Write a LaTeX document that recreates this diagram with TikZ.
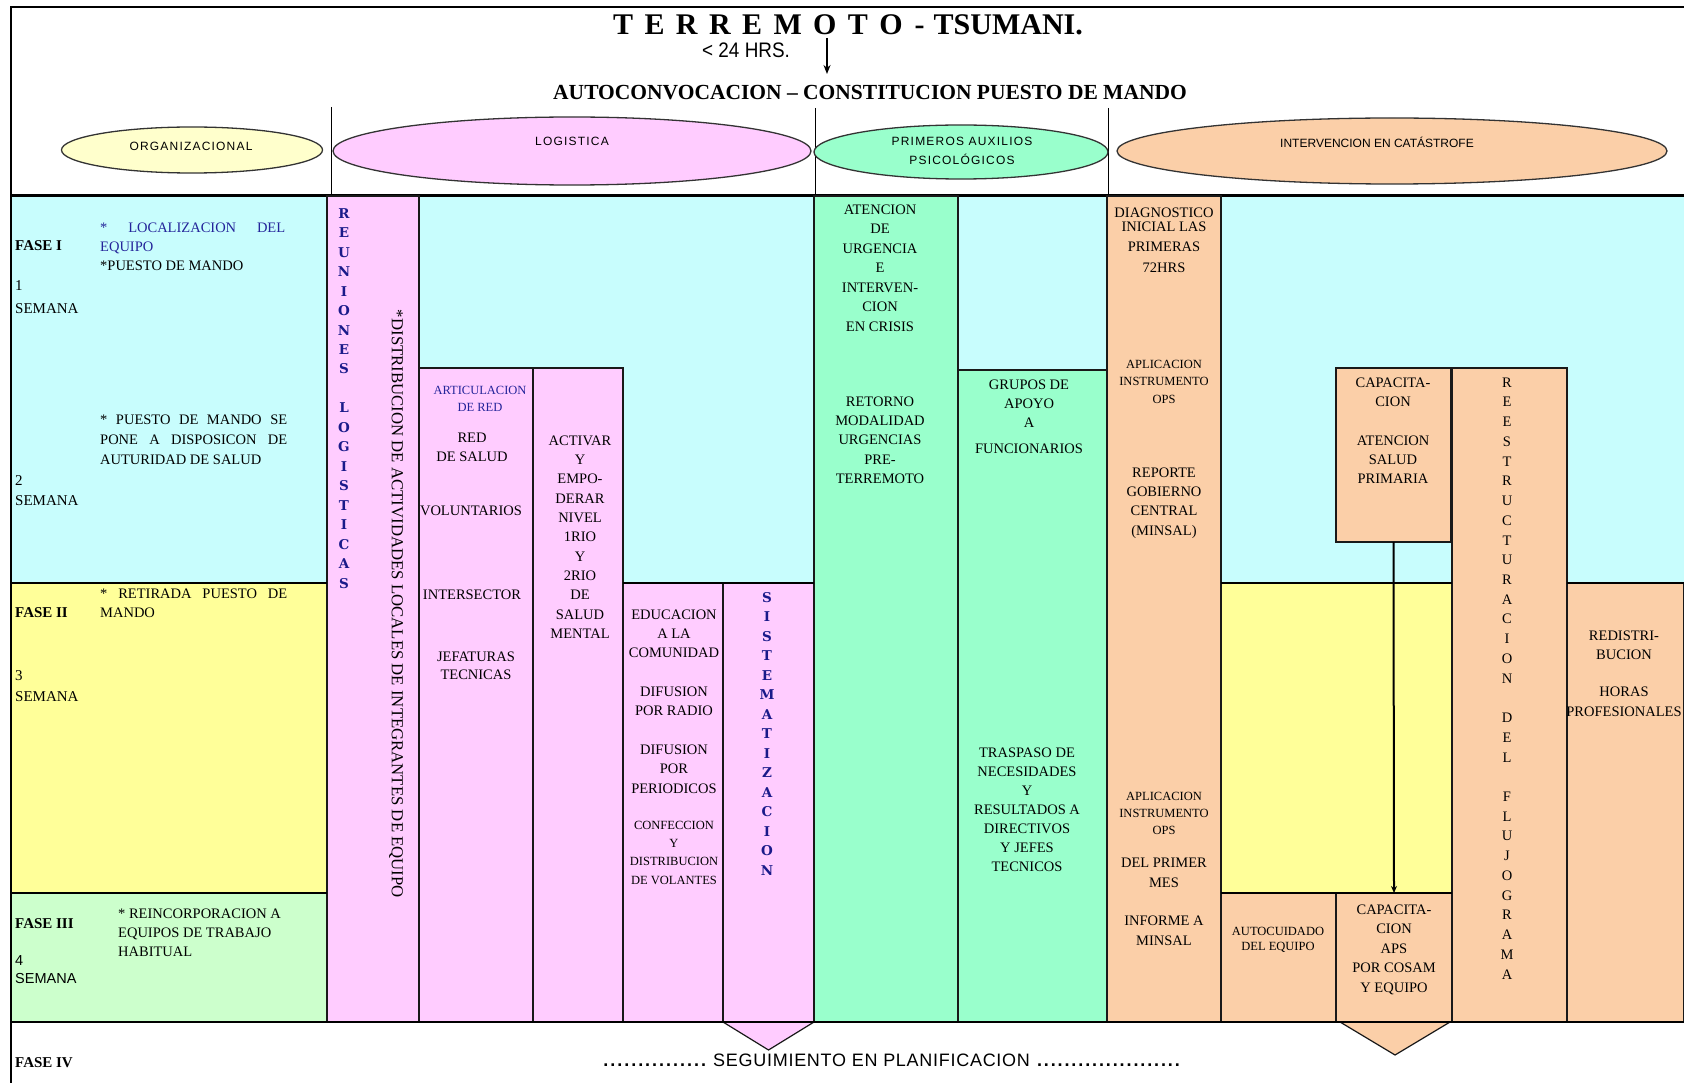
\documentclass[tikz,border=0pt]{standalone}
\usepackage{fontspec}
\usepackage{graphicx}
\setmainfont{Liberation Serif}
\newfontfamily\sansf{Liberation Sans}
\newfontfamily\sansls[LetterSpace=4]{Liberation Sans}
\newfontfamily\hdrf[LetterSpace=10]{Liberation Sans}
\newfontfamily\heavyf{DejaVu Serif}
\usetikzlibrary{shapes.geometric,arrows.meta,calc}
\definecolor{cyanb}{HTML}{C8FDFD}
\definecolor{yelb}{HTML}{FFFF99}
\definecolor{grnb}{HTML}{CCFFCC}
\definecolor{pinkc}{HTML}{FFCCFF}
\definecolor{mint}{HTML}{99FFCC}
\definecolor{peach}{HTML}{FBCFA8}
\definecolor{orgy}{HTML}{FFFFCC}
\definecolor{navyt}{HTML}{1A1A8A}
\definecolor{bluet}{HTML}{24249A}
\newcommand\fs[2]{\fontsize{#1}{#2}\selectfont}
\newcommand\dotrow[1]{\hbox to #1{\xleaders\hbox to 6.6pt{\hss.\hss}\hfill}}
\begin{document}
\begin{tikzpicture}[x=1pt,y=-1pt,
  col/.style={draw=black!90, line width=1.3pt, anchor=north west, inner sep=0pt, outer sep=0pt},
  hell/.style={ellipse, draw=black!80, line width=1.3pt, inner sep=0pt},
  tx/.style={anchor=north, inner sep=0pt, align=center, font=\fs{14.5}{19.4}, yshift=9.5pt},
  txs/.style={anchor=north, inner sep=0pt, align=center, font=\fs{12.5}{17.5}, yshift=8.2pt},
  tl/.style={anchor=north west, inner sep=0pt, align=left, font=\fs{14.5}{19.5}, yshift=9.5pt},
  fase/.style={anchor=base west, inner sep=0pt, font=\bfseries\fs{15}{18}},
  stk/.style={anchor=north, inner sep=0pt, align=center, font=\heavyf\bfseries\fs{13.5}{19.5}, text=navyt, yshift=9.84pt},
  hdr/.style={anchor=base, inner sep=0pt, align=center, font=\hdrf\fs{12}{19}},
  band/.style={line width=2.6pt},
]
\useasboundingbox (0,0) rectangle (1684,1083);
\fill[white] (0,0) rectangle (1684,1083);
% background bands
\fill[cyanb] (11,196) rectangle (1684,583);
\fill[yelb] (11,583) rectangle (1684,893);
\fill[grnb] (11,893) rectangle (1684,1022);
% frame
\draw[line width=2pt] (11,1083) -- (11,7) -- (1684,7);
% title
\node[anchor=base west, inner sep=0pt, font=\bfseries\fs{30}{30}] (title) at (613,35)
  {T\hspace{11.4pt}E\hspace{11.4pt}R\hspace{11.4pt}R\hspace{11.4pt}E\hspace{11.4pt}M\hspace{11.4pt}O\hspace{11.4pt}T\hspace{11.4pt}O\hspace{12pt}-\hspace{9pt}TSUMANI.};
\node[anchor=base west, inner sep=0pt, font=\sansf\fs{21}{21}] (hrs) at (702,58) {\scalebox{0.9}[1]{< 24 HRS.}};
\coordinate (arrtop) at (827,38);
\coordinate (arrbot) at (827,74);
\draw[line width=2pt, -{Stealth[length=9pt,width=7pt]}] (arrtop) -- (arrbot);
\node[anchor=base west, inner sep=0pt, font=\bfseries\fs{21.5}{22}] (auto) at (553,100) {AUTOCONVOCACION – CONSTITUCION PUESTO DE MANDO};
% header separators
\draw[line width=1pt] (331,107) -- (331,196);
\draw[line width=1pt] (815,108) -- (815,196);
\draw[line width=1pt] (1108,108) -- (1108,196);
% header ellipses
\node[hell, fill=orgy, minimum width=261pt, minimum height=46pt] (eorg) at (192,150) {};
\node[hell, fill=pinkc, minimum width=478pt, minimum height=68pt] (elog) at (572,151) {};
\node[hell, fill=mint, minimum width=294pt, minimum height=54pt] (epri) at (961,152) {};
\node[hell, fill=peach, minimum width=550pt, minimum height=66pt] (eint) at (1392,151) {};
\node[hdr] (torg) at (191,151) {ORGANIZACIONAL};
\node[hdr] (tlog) at (572,146) {LOGISTICA};
\node[hdr] (tpri) at (962,165) {PRIMEROS AUXILIOS\\PSICOLÓGICOS};
\node[hdr, font=\sansf\fs{12}{19}] (tint) at (1377,148) {INTERVENCION EN CATÁSTROFE};
% header line
\draw[line width=3pt] (11,196) -- (1684,196);
% columns
\node[col, fill=pinkc, minimum width=92pt, minimum height=826pt] (reun) at (327,196) {};
\node[col, fill=pinkc, minimum width=114pt, minimum height=654pt] (A) at (419,368) {};
\node[col, fill=pinkc, minimum width=90pt, minimum height=654pt] (B) at (533,368) {};
\node[col, fill=pinkc, minimum width=100pt, minimum height=439pt] (C) at (623,583) {};
\node[col, fill=pinkc, minimum width=91pt, minimum height=439pt] (D) at (723,583) {};
\node[col, fill=mint, minimum width=144pt, minimum height=826pt] (E) at (814,196) {};
\node[col, fill=mint, minimum width=149pt, minimum height=652pt] (F) at (958,370) {};
\node[col, fill=peach, minimum width=114pt, minimum height=826pt] (G) at (1107,196) {};
\node[col, fill=peach, minimum width=115pt, minimum height=174pt] (H) at (1336,368) {};
\node[col, fill=peach, minimum width=115pt, minimum height=654pt] (I) at (1452,368) {};
\node[col, fill=peach, minimum width=117pt, minimum height=439pt] (J) at (1567,583) {};
\node[col, fill=peach, minimum width=115pt, minimum height=129pt] (K) at (1221,893) {};
\node[col, fill=peach, minimum width=116pt, minimum height=129pt] (L) at (1336,893) {};
% chevrons
\filldraw[fill=pinkc, draw=black!90, line width=1.2pt] (D.south west) -- ($(D.south)+(0,28)$) -- (D.south east);
\filldraw[fill=peach, draw=black!90, line width=1.2pt] ($(L.south west)+(4,0)$) -- ($(L.south)+(1,33)$) -- ($(L.south east)+(-2,0)$);
% band lines
\draw[band] (11,583) -- (327,583);
\draw[band] (11,893) -- (327,893);
\draw[band] (11,1022) -- (1684,1022);
\draw[band] (1221,583) -- (1452,583);
\draw[band] (1567,583) -- (1684,583);
\draw[band] (623,583) -- (814,583);
\draw[line width=1.8pt] (1221,893) -- (1452,893);
% arrow H -> L
\draw[line width=2pt, -{Stealth[length=7pt,width=6pt]}] (H.south) -- (L.north);
% left column text
\node[fase] (f1) at (15,251) {FASE I};
\node[anchor=base west, inner sep=0pt, font=\fs{15}{18}] (s1n) at (15,291) {1};
\node[anchor=base west, inner sep=0pt, font=\fs{15}{18}] (s1) at (15,313) {SEMANA};
\node[tl, font=\fs{14.5}{19}] (loc) at (100,232) {{\color{bluet}\makebox[185pt][s]{* LOCALIZACION DEL}}\\{\color{bluet}EQUIPO}\\*PUESTO DE MANDO};
\node[tl, font=\fs{14.5}{20}] (pmse) at (100,424) {\makebox[187pt][s]{* PUESTO DE MANDO SE}\\\makebox[187pt][s]{PONE A DISPOSICON DE}\\AUTURIDAD DE SALUD};
\node[anchor=base west, inner sep=0pt, font=\fs{15}{18}] (s2n) at (15,485) {2};
\node[anchor=base west, inner sep=0pt, font=\fs{15}{18}] (s2) at (15,505) {SEMANA};
\node[fase] (f2) at (15,617) {FASE II};
\node[tl, font=\fs{14.5}{19}] (ret) at (100,598) {\makebox[187pt][s]{* RETIRADA PUESTO DE}\\MANDO};
\node[anchor=base west, inner sep=0pt, font=\fs{15}{18}] (s3n) at (15,680) {3};
\node[anchor=base west, inner sep=0pt, font=\fs{15}{18}] (s3) at (15,701) {SEMANA};
\node[fase] (f3) at (15,928) {FASE III};
\node[tl, font=\fs{14.5}{19}] (rei) at (118,918) {* REINCORPORACION A\\EQUIPOS DE TRABAJO\\HABITUAL};
\node[anchor=base west, inner sep=0pt, font=\sansf\fs{14.5}{18}] (s4n) at (15,965) {4};
\node[anchor=base west, inner sep=0pt, font=\sansf\fs{14.5}{18}] (s4) at (15,983) {SEMANA};
\node[fase] (f4) at (15,1067) {FASE IV};
% reuniones column
\node[stk, font=\heavyf\bfseries\fs{13.5}{19.47}] (treun) at (344,218) {R\\E\\U\\N\\I\\O\\N\\E\\S\\[19.47pt]L\\O\\G\\I\\S\\T\\I\\C\\A\\S};
\node[rotate=-90, inner sep=0pt, font=\fs{15.5}{16}] (tdist) at (396,604) {\resizebox{588pt}{!}{*DISTRIBUCION DE ACTIVIDADES LOCALES DE INTEGRANTES DE EQUIPO}};
% box A
\node[txs, text=bluet, font=\fs{12.5}{17}] (tart) at (480,394) {ARTICULACION\\DE RED};
\node[tx] (tred) at (472,442) {RED\\DE SALUD};
\node[tx] (tvol) at (471,515) {VOLUNTARIOS};
\node[tx] (tint2) at (472,599) {INTERSECTOR};
\node[tx, font=\fs{14.5}{18}] (tjef) at (476,661) {JEFATURAS\\TECNICAS};
% box B
\node[tx, font=\fs{14.5}{19.3}] (tact) at (580,445) {ACTIVAR\\Y\\EMPO-\\DERAR\\NIVEL\\1RIO\\Y\\2RIO\\DE\\SALUD\\MENTAL};
% box C
\node[tx, font=\fs{14.5}{19}] (tedu) at (674,619) {EDUCACION\\A LA\\COMUNIDAD};
\node[tx, font=\fs{14.5}{19}] (tdif1) at (674,696) {DIFUSION\\POR RADIO};
\node[tx, font=\fs{14.5}{19.5}] (tdif2) at (674,754) {DIFUSION\\POR\\PERIODICOS};
\node[txs, font=\fs{12.5}{18.3}] (tconf) at (674,829) {CONFECCION\\Y\\DISTRIBUCION\\DE VOLANTES};
% box D
\node[stk] (tsis) at (767,602) {S\\I\\S\\T\\E\\M\\A\\T\\I\\Z\\A\\C\\I\\O\\N};
% box E
\node[tx, font=\fs{14.5}{19.5}] (tate) at (880,214) {ATENCION\\DE\\URGENCIA\\E\\INTERVEN-\\CION\\EN CRISIS};
\node[tx, font=\fs{14.5}{19.25}] (tretor) at (880,406) {RETORNO\\MODALIDAD\\URGENCIAS\\PRE-\\TERREMOTO};
% box F
\node[tx, font=\fs{14.5}{19}] (tgru) at (1029,389) {GRUPOS DE\\APOYO\\A\\[7pt]FUNCIONARIOS};
\node[tx, font=\fs{14.5}{19}] (ttra) at (1027,757) {TRASPASO DE\\NECESIDADES\\Y\\RESULTADOS A\\DIRECTIVOS\\Y JEFES\\TECNICOS};
% box G
\node[tx] (tdiag) at (1164,217) {DIAGNOSTICO};
\node[tx, font=\fs{14.5}{20.5}] (tini) at (1164,231) {INICIAL LAS\\PRIMERAS\\72HRS};
\node[txs] (tapl1) at (1164,368) {APLICACION\\INSTRUMENTO\\OPS};
\node[tx, font=\fs{14.5}{19.3}] (trep) at (1164,477) {REPORTE\\GOBIERNO\\CENTRAL\\(MINSAL)};
\node[txs, font=\fs{12.5}{17}] (tapl2) at (1164,800) {APLICACION\\INSTRUMENTO\\OPS};
\node[tx, font=\fs{14.5}{20}] (tdel) at (1164,867) {DEL PRIMER\\MES};
\node[tx, font=\fs{14.5}{20}] (tinf) at (1164,925) {INFORME A\\MINSAL};
% box H
\node[tx, font=\fs{14.5}{19.3}] (tcap1) at (1393,387) {CAPACITA-\\CION\\[19.3pt]ATENCION\\SALUD\\PRIMARIA};
% box I
\node[tx, font=\fs{14.5}{19.73}] (tree) at (1507,387) {R\\E\\E\\S\\T\\R\\U\\C\\T\\U\\R\\A\\C\\I\\O\\N\\[19.73pt]D\\E\\L\\[19.73pt]F\\L\\U\\J\\O\\G\\R\\A\\M\\A};
% box J
\node[tx, font=\fs{14.5}{19.5}] (tred2) at (1624,640) {REDISTRI-\\BUCION\\[17.5pt]HORAS\\PROFESIONALES};
% box K
\node[txs, font=\fs{12.5}{15}] (taut) at (1278,935) {AUTOCUIDADO\\DEL EQUIPO};
% box L
\node[tx, font=\fs{14.5}{19.5}] (tcap2) at (1394,914) {CAPACITA-\\CION\\APS\\POR COSAM\\Y EQUIPO};
% bottom
\node[anchor=base west, inner sep=0pt] (seg) at (602,1066) {{\sansf\bfseries\fs{18}{18}\dotrow{105pt}}\hspace{6pt}{\sansls\fs{18}{18}SEGUIMIENTO EN PLANIFICACION}\hspace{6pt}{\sansf\bfseries\fs{18}{18}\dotrow{145pt}}};
\end{tikzpicture}
\end{document}
